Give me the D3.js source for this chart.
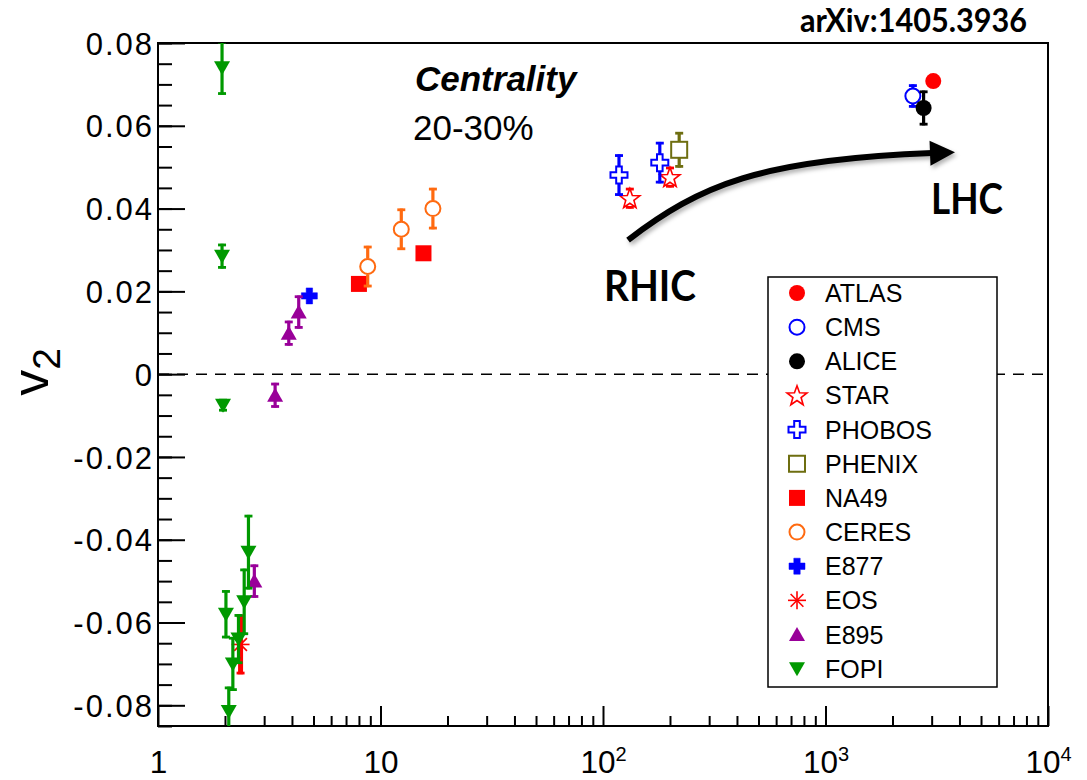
<!DOCTYPE html>
<html>
<head>
<meta charset="utf-8">
<script src="https://cdn.jsdelivr.net/npm/d3@7"></script>
<style>
  html, body { margin: 0; padding: 0; background: #fff; }
  svg { display: block; }
</style>
</head>
<body>
<svg id="chart" width="1087" height="780"></svg>
<script>
// v2 at 20-30% centrality versus collision energy, one array per experiment: [sqrt(s_NN) GeV, v2, error]
const ATLAS  = [[3050, 0.0708, 0]];
const CMS    = [[2470, 0.0672, 0.0028]];
const ALICE  = [[2760, 0.0643, 0.0042]];
const STAR   = [[132, 0.0425, 0.0025], [200, 0.0476, 0.0025]];
const PHOBOS = [[118, 0.0481, 0.0050], [180, 0.0511, 0.0050]];
const PHENIX = [[220, 0.0542, 0.0043]];
const NA49   = [[8.0, 0.0218, 0], [15.6, 0.0292, 0]];
const CERES  = [[8.76, 0.0260, 0.0050], [12.4, 0.0350, 0.0050], [17.2, 0.0400, 0.0050]];
const E877   = [[4.79, 0.0189, 0]];
const EOS    = [[2.35, -0.0653, 0.0072]];
const E895   = [[2.71, -0.0500, 0.0040], [3.36, -0.0051, 0.0030], [3.87, 0.0099, 0.0030], [4.29, 0.0150, 0.0040]];
const FOPI   = [
  [1.94, 0.0740, 0.0065],
  [1.94, 0.0285, 0.0030],
  [1.96, -0.0075, 0.0015],
  [2.55, -0.0430, 0.0090],
  [2.44, -0.0550, 0.0080],
  [2.02, -0.0580, 0.0058],
  [2.30, -0.0640, 0.0060],
  [2.17, -0.0700, 0.0065],
  [2.08, -0.0815, 0.0060]
];

// Legend order
const experiments = ["ATLAS", "CMS", "ALICE", "STAR", "PHOBOS", "PHENIX", "NA49", "CERES", "E877", "EOS", "E895", "FOPI"];
const seriesData = [ATLAS, CMS, ALICE, STAR, PHOBOS, PHENIX, NA49, CERES, E877, EOS, E895, FOPI];

// Axis ticks
const xMajorTicks = [1, 10, 100, 1000, 10000];
const yMajorTicks = [-0.08, -0.06, -0.04, -0.02, 0, 0.02, 0.04, 0.06, 0.08];

// RHIC -> LHC trend arrow, in data coordinates (cubic Bezier: start, c1, c2, end)
const trendArrow = [[129.6, 0.0324], [272.9, 0.0457], [507.6, 0.0518], [3011, 0.0534]];

// Marker style per experiment
const styles = {
  ATLAS:  { shape: "circle",   fill: true,  color: "#ff0000" },
  CMS:    { shape: "circle",   fill: false, color: "#0000ff" },
  ALICE:  { shape: "circle",   fill: true,  color: "#000000" },
  STAR:   { shape: "star",     fill: false, color: "#ff0000" },
  PHOBOS: { shape: "cross",    fill: false, color: "#0000ff" },
  PHENIX: { shape: "square",   fill: false, color: "#6e6e10" },
  NA49:   { shape: "square",   fill: true,  color: "#ff0000" },
  CERES:  { shape: "circle",   fill: false, color: "#ff6a10" },
  E877:   { shape: "cross",    fill: true,  color: "#0000ff" },
  EOS:    { shape: "asterisk", fill: false, color: "#ff0000", barWidth: 5 },
  E895:   { shape: "triUp",    fill: true,  color: "#990099" },
  FOPI:   { shape: "triDown",  fill: true,  color: "#009900" }
};

const W = 1087, H = 780;
const plot = { left: 158, right: 1048, top: 43, bottom: 726 };

const x = d3.scaleLog().domain([1, 1e4]).range([plot.left, plot.right]);
const y = d3.scaleLinear().domain([-0.085, 0.08]).range([plot.bottom, plot.top]);

const svg = d3.select("#chart");
const FONT = "'Liberation Sans', Arial, Helvetica, sans-serif";

const defs = svg.append("defs");
defs.append("clipPath").attr("id", "plotClip")
  .append("rect")
  .attr("x", plot.left).attr("y", plot.top)
  .attr("width", plot.right - plot.left).attr("height", plot.bottom - plot.top);
const shadow = defs.append("filter").attr("id", "arrowShadow")
  .attr("x", "-10%").attr("y", "-30%").attr("width", "130%").attr("height", "180%");
shadow.append("feDropShadow").attr("dx", 2).attr("dy", 3).attr("stdDeviation", 2)
  .attr("flood-color", "#000").attr("flood-opacity", 0.3);

// ---- Marker shapes (drawn centred at 0,0) ----
function drawMarker(g, st) {
  const c = st.color;
  switch (st.shape) {
    case "circle":
      g.append("circle").attr("r", st.fill ? 8 : 7.5)
        .attr("fill", st.fill ? c : "none")
        .attr("stroke", c).attr("stroke-width", st.fill ? 0 : 2);
      break;
    case "square":
      if (st.fill) g.append("rect").attr("x", -8).attr("y", -8).attr("width", 16).attr("height", 16).attr("fill", c);
      else g.append("rect").attr("x", -8).attr("y", -8).attr("width", 16).attr("height", 16)
        .attr("fill", "none").attr("stroke", c).attr("stroke-width", 2);
      break;
    case "star": {
      const pts = d3.range(10).map(i => {
        const r = i % 2 === 0 ? 10.5 : 4.3;
        const a = -Math.PI / 2 + i * Math.PI / 5;
        return [r * Math.cos(a), r * Math.sin(a) + 0.8];
      });
      g.append("polygon").attr("points", pts.map(p => p.join(",")).join(" "))
        .attr("fill", "#fff").attr("stroke", c).attr("stroke-width", 1.6);
      break;
    }
    case "cross": {
      const a = st.fill ? 3.2 : 2.8, b = st.fill ? 8 : 8.5;
      const pts = [[-a,-b],[a,-b],[a,-a],[b,-a],[b,a],[a,a],[a,b],[-a,b],[-a,a],[-b,a],[-b,-a],[-a,-a]];
      g.append("polygon").attr("points", pts.map(p => p.join(",")).join(" "))
        .attr("fill", st.fill ? c : "#fff")
        .attr("stroke", c).attr("stroke-width", st.fill ? 0.5 : 2);
      break;
    }
    case "asterisk":
      [0, 45, 90, 135].forEach(ang => {
        const r = 9, t = ang * Math.PI / 180;
        g.append("line")
          .attr("x1", -r * Math.cos(t)).attr("y1", -r * Math.sin(t))
          .attr("x2", r * Math.cos(t)).attr("y2", r * Math.sin(t))
          .attr("stroke", c).attr("stroke-width", 1.6);
      });
      break;
    case "triUp":
      g.append("polygon").attr("points", "0,-7.5 8,6.5 -8,6.5").attr("fill", c);
      break;
    case "triDown":
      g.append("polygon").attr("points", "0,7.5 8,-6.5 -8,-6.5").attr("fill", c);
      break;
  }
}

// gap kept clear inside hollow markers so error bars stop at their outline
function markerGap(st) {
  if (st.fill || st.shape === "asterisk") return 0;
  return { circle: 8, square: 8, star: 8, cross: 8.5 }[st.shape] || 0;
}

// ---- Frame ----
svg.append("rect")
  .attr("x", plot.left).attr("y", plot.top)
  .attr("width", plot.right - plot.left).attr("height", plot.bottom - plot.top)
  .attr("fill", "#fff").attr("stroke", "#000").attr("stroke-width", 2);

// ---- Axes ----
const yMinor = d3.range(-0.085, 0.0801, 0.005).map(v => +v.toFixed(3));
svg.append("g").attr("transform", `translate(${plot.left},0)`)
  .call(d3.axisLeft(y).tickValues(yMinor).tickSize(-14).tickSizeOuter(0).tickFormat(""))
  .call(g => g.select(".domain").remove())
  .call(g => g.selectAll("line").attr("stroke", "#000").attr("stroke-width", 2));

svg.append("g").attr("transform", `translate(${plot.left},0)`)
  .call(d3.axisLeft(y).tickValues(yMajorTicks).tickSize(-27).tickSizeOuter(0).tickPadding(4)
    .tickFormat(d => d === 0 ? "0" : d3.format(".2f")(d).replace("−", "-")))
  .call(g => g.select(".domain").remove())
  .call(g => g.selectAll("line").attr("stroke", "#000").attr("stroke-width", 2))
  .call(g => g.selectAll("text")
    .attr("fill", "#000")
    .style("font-family", FONT).style("font-size", "31px")
    .style("letter-spacing", "2px")
    .attr("dy", "0.36em"));

const xMinor = [];
[1, 10, 100, 1000].forEach(dec => d3.range(2, 10).forEach(k => xMinor.push(dec * k)));
svg.append("g").attr("transform", `translate(0,${plot.bottom})`)
  .call(d3.axisBottom(x).tickValues(xMinor).tickSize(-10).tickSizeOuter(0).tickFormat(""))
  .call(g => g.select(".domain").remove())
  .call(g => g.selectAll("line").attr("stroke", "#000").attr("stroke-width", 2));

svg.append("g").attr("transform", `translate(0,${plot.bottom})`)
  .call(d3.axisBottom(x).tickValues(xMajorTicks).tickSize(-20).tickSizeOuter(0).tickPadding(25).tickFormat(""))
  .call(g => g.select(".domain").remove())
  .call(g => g.selectAll("line").attr("stroke", "#000").attr("stroke-width", 2))
  .call(g => g.selectAll(".tick text").each(function (d) {
    const t = d3.select(this)
      .attr("fill", "#000")
      .style("font-family", FONT).style("font-size", "31.5px");
    const e = Math.round(Math.log10(d));
    if (e <= 1) {
      t.text(String(d));
    } else {
      t.append("tspan").text("10");
      t.append("tspan").attr("dy", "-0.6em").style("font-size", "20px").text(String(e));
    }
  }));

// ---- Zero line ----
svg.append("line")
  .attr("x1", plot.left).attr("x2", plot.right)
  .attr("y1", y(0)).attr("y2", y(0))
  .attr("stroke", "#000").attr("stroke-width", 1.5).attr("stroke-dasharray", "11,8");

// ---- Data ----
const dataLayer = svg.append("g").attr("clip-path", "url(#plotClip)");
experiments.forEach((name, i) => {
  const st = styles[name];
  const pts = seriesData[i];
  const gS = dataLayer.append("g").attr("class", "series-" + name);
  const bw = st.barWidth || 3.2;
  pts.forEach(([xv, yv, err]) => {
    const cx = x(xv), cy = y(yv);
    if (err > 0) {
      const yTop = y(yv + err), yBot = y(yv - err);
      const gap = markerGap(st);
      const eb = gS.append("g").attr("stroke", st.color).attr("stroke-width", bw);
      if (cy - gap > yTop) eb.append("line").attr("x1", cx).attr("x2", cx).attr("y1", yTop).attr("y2", cy - gap);
      if (cy + gap < yBot) eb.append("line").attr("x1", cx).attr("x2", cx).attr("y1", cy + gap).attr("y2", yBot);
      eb.append("line").attr("x1", cx - 4).attr("x2", cx + 4).attr("y1", yTop + 1.2).attr("y2", yTop + 1.2).attr("stroke-width", 2.8);
      eb.append("line").attr("x1", cx - 4).attr("x2", cx + 4).attr("y1", yBot - 1.2).attr("y2", yBot - 1.2).attr("stroke-width", 2.8);
    }
    drawMarker(gS.append("g").attr("transform", `translate(${cx},${cy})`), st);
  });
});

// ---- Legend ----
const legend = svg.append("g");
legend.append("rect")
  .attr("x", 768).attr("y", 277).attr("width", 229).attr("height", 410)
  .attr("fill", "#fff").attr("stroke", "#000").attr("stroke-width", 1.5);
const rowStep = 34.15;
experiments.forEach((name, i) => {
  const ry = 293 + i * rowStep;
  drawMarker(legend.append("g").attr("transform", `translate(797,${ry})`), styles[name]);
  legend.append("text")
    .attr("x", 825).attr("y", ry + 9)
    .style("font-family", FONT).style("font-size", "25px")
    .attr("fill", "#000").text(name);
});

// ---- Trend arrow ----
const [p0, p1, p2, p3] = trendArrow.map(([a, b]) => [x(a), y(b)]);
const arrowG = svg.append("g").attr("filter", "url(#arrowShadow)");
arrowG.append("path")
  .attr("d", `M${p0[0]},${p0[1]} C${p1[0]},${p1[1]} ${p2[0]},${p2[1]} ${p3[0]},${p3[1]}`)
  .attr("fill", "none").attr("stroke", "#000").attr("stroke-width", 6);
{
  const dx = p3[0] - p2[0], dy = p3[1] - p2[1];
  const L = Math.hypot(dx, dy), ux = dx / L, uy = dy / L;
  const nx = -uy, ny = ux, len = 25, hw = 12.5, back = 2;
  const bx = p3[0] - ux * back, by = p3[1] - uy * back;
  const tip = [bx + ux * len, by + uy * len];
  arrowG.append("polygon")
    .attr("points", [[bx + nx * hw, by + ny * hw], tip, [bx - nx * hw, by - ny * hw]].map(p => p.join(",")).join(" "))
    .attr("fill", "#000");
}

// ---- Annotations ----
svg.append("text").attr("x", 415).attr("y", 91)
  .style("font-family", FONT).style("font-size", "35px")
  .style("font-weight", "bold").style("font-style", "italic")
  .text("Centrality");
svg.append("text").attr("x", 413).attr("y", 140)
  .style("font-family", FONT).style("font-size", "35px")
  .text("20-30%");

const LABEL_FONT = "Lato, 'Open Sans', sans-serif";
svg.append("text").attr("x", 604).attr("y", 301)
  .attr("textLength", 92).attr("lengthAdjust", "spacingAndGlyphs")
  .style("font-family", LABEL_FONT).style("font-size", "42px").style("font-weight", "bold")
  .text("RHIC");
svg.append("text").attr("x", 931).attr("y", 213.5)
  .attr("textLength", 72).attr("lengthAdjust", "spacingAndGlyphs")
  .style("font-family", LABEL_FONT).style("font-size", "42px").style("font-weight", "bold")
  .text("LHC");
svg.append("text").attr("x", 800).attr("y", 31.5)
  .attr("textLength", 227).attr("lengthAdjust", "spacingAndGlyphs")
  .style("font-family", LABEL_FONT).style("font-size", "33px").style("font-weight", "bold")
  .text("arXiv:1405.3936");

// ---- Y axis title ----
const yTitle = svg.append("text")
  .attr("transform", "translate(48,372) rotate(-90)")
  .attr("text-anchor", "middle")
  .style("font-family", FONT).attr("fill", "#000");
yTitle.append("tspan").style("font-size", "52px").text("v");
yTitle.append("tspan").attr("dy", 12).style("font-size", "39px").text("2");
</script>
</body>
</html>
